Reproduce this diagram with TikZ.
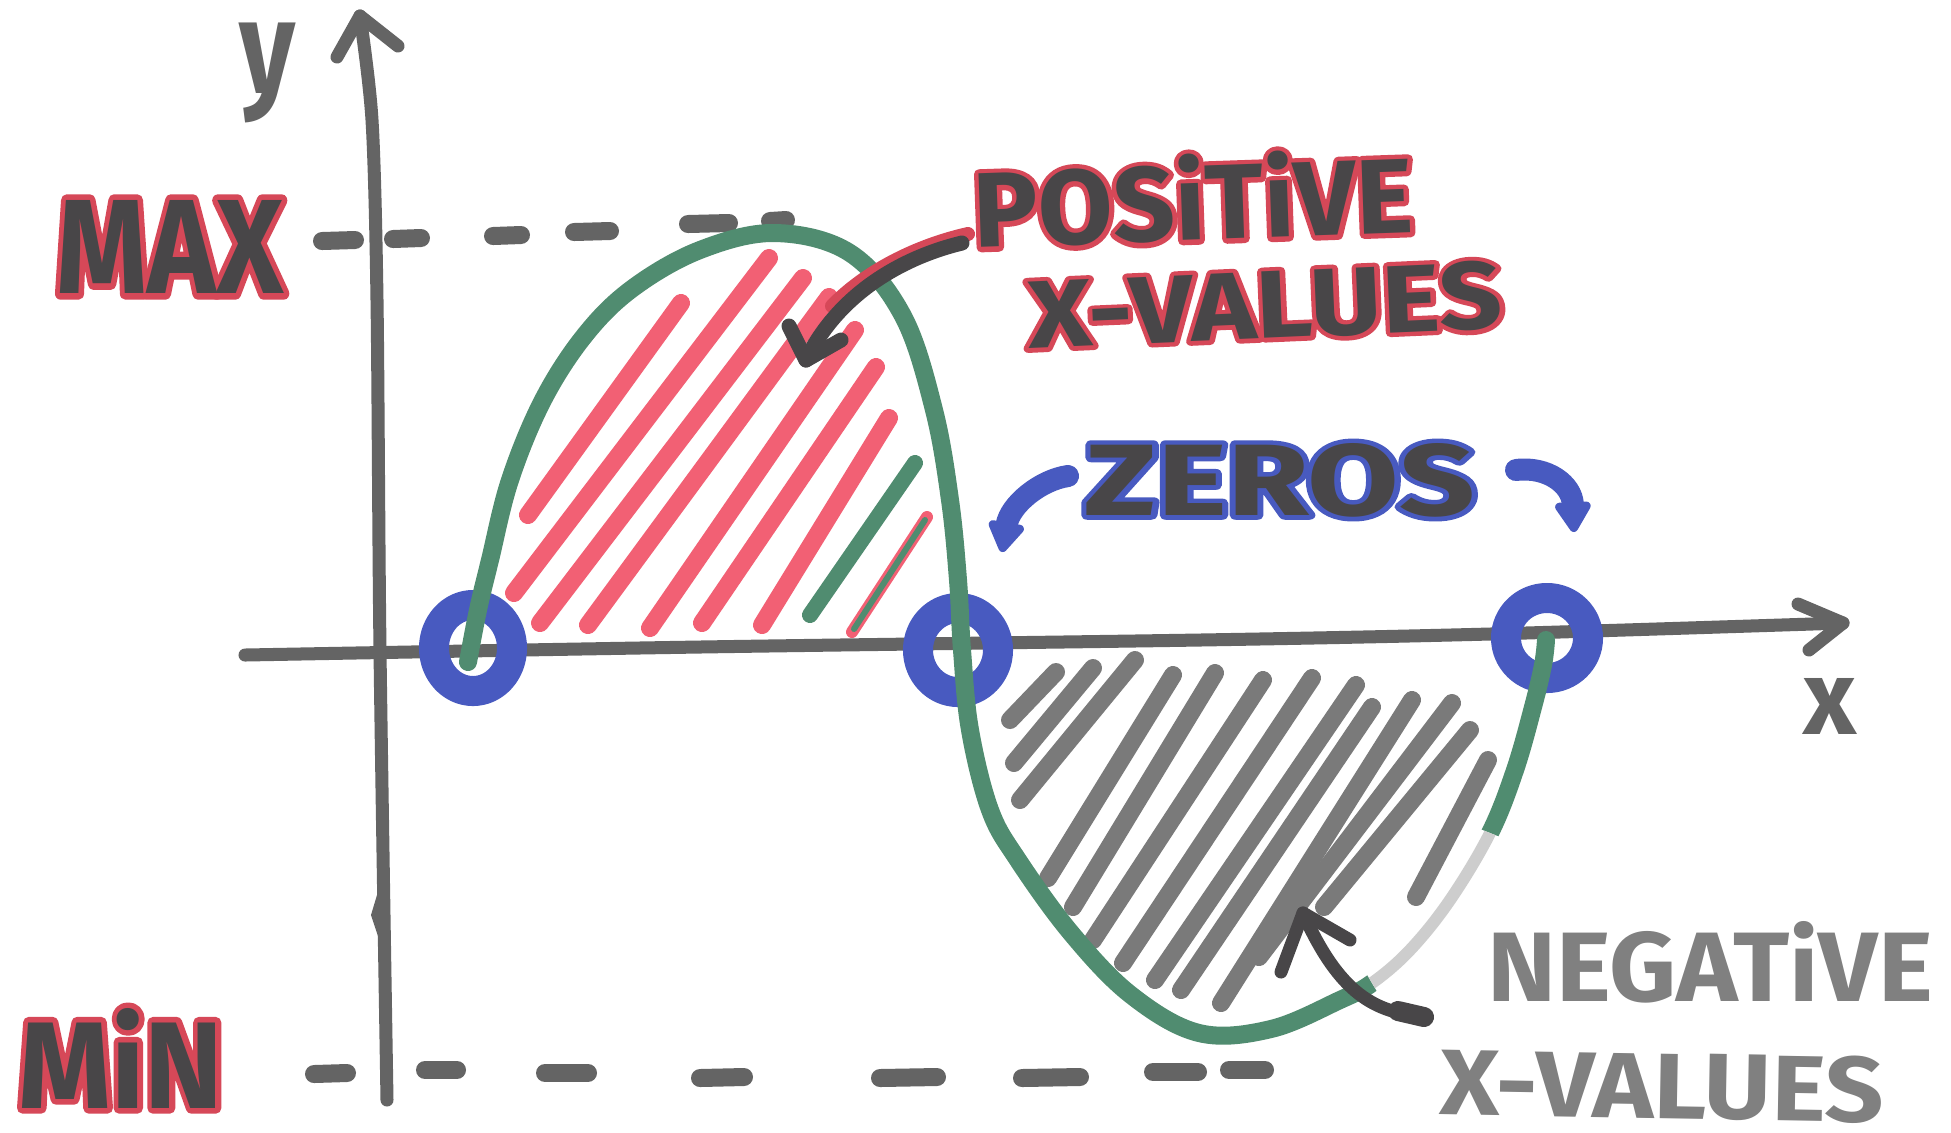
\documentclass[tikz,border=0pt]{standalone}
\usepackage{graphicx}
\usepackage{fontspec}
\setmainfont{Fira Sans}
\newfontfamily\fatfont{Fira Sans}[BoldFeatures={FakeBold=9}]
\usetikzlibrary{arrows.meta}
\definecolor{cgreen}{RGB}{80,140,112}
\definecolor{cblue}{RGB}{72,90,192}
\definecolor{cred}{RGB}{242,96,116}
\definecolor{tred}{RGB}{214,72,88}
\definecolor{cdark}{RGB}{72,70,72}
\definecolor{cgray}{RGB}{100,100,100}
\definecolor{hgray}{RGB}{122,122,122}
\definecolor{lgray}{RGB}{128,128,128}
\definecolor{faint}{RGB}{205,205,205}
\newcommand\duo[5]{%
  \leavevmode
  \rlap{\color{#3}\fatfont\bfseries\resizebox{#1}{#2}{#5}}%
  {\color{#4}\bfseries\resizebox{#1}{#2}{#5}}}
\tikzset{
  axisline/.style={line width=0.13cm, draw=cgray, line cap=round, line join=round},
  dashmark/.style={line width=0.18cm, draw=cgray, line cap=round},
  redhatch/.style={line width=0.18cm, draw=cred, line cap=round},
  grayhatch/.style={line width=0.18cm, draw=hgray, line cap=round},
  zeroring/.style={line width=0.3cm, draw=cblue},
  curveline/.style={line width=0.18cm, draw=cgreen, line cap=round},
  bluearrow/.style={line width=0.22cm, draw=cblue, line cap=round, -{Triangle[round,length=0.34cm,width=0.4cm]}},
  darkarrow/.style={line width=0.15cm, draw=cdark, line cap=round, line join=round},
  lbl/.style={inner sep=0pt, font=\bfseries, line join=round, line cap=round}
}
\begin{document}
\begin{tikzpicture}[x=0.01cm, y=-0.01cm, line join=round]
\pgfsetroundjoin
\useasboundingbox (0,0) rectangle (1951,1132);
\fill[white] (0,0) rectangle (1951,1132);

% dashes MAX
\draw[dashmark] (322,241) -- (355,240);
\draw[dashmark] (393,239) -- (421,238);
\draw[dashmark] (493,236) -- (521,235);
\draw[dashmark] (574,232) -- (610,231);
\draw[dashmark] (688,224) -- (729,223);
\draw[dashmark] (770,221) -- (786,220);
% dashes MIN
\draw[dashmark] (314,1074) -- (347,1073);
\draw[dashmark] (425,1070) -- (457,1070);
\draw[dashmark] (545,1073) -- (588,1073);
\draw[dashmark] (700,1078) -- (744,1077);
\draw[dashmark] (880,1078) -- (937,1077);
\draw[dashmark] (1022,1078) -- (1080,1077);
\draw[dashmark] (1153,1072) -- (1198,1072);
\draw[dashmark] (1229,1070) -- (1265,1070);

% axes
\coordinate (ybot) at (387,1100);
\coordinate (ytip) at (360,16);
\draw[axisline] plot[smooth] coordinates {(387,1100) (380,650) (377,300) (372,120) (360,16)};
\draw[axisline] (337,57) -- (ytip) -- (398,46);
\fill[cgray] (380,885) -- (389,915) -- (381,945) -- (371,915) -- cycle;
\coordinate (xbeg) at (245,655);
\coordinate (xtip) at (1843,623);
\draw[axisline] plot[smooth] coordinates {(245,655) (700,647) (1200,640) (1490,634) (1843,623)};
\draw[axisline] (1798,604) -- (xtip) -- (1809,650);

% red hatching
\draw[redhatch] (528,515) -- (681,303);
\draw[redhatch] (514,593) -- (769,258);
\draw[redhatch] (540,623) -- (803,278);
\draw[redhatch] (588,625) -- (829,297);
\draw[redhatch] (650,628) -- (855,330);
\draw[redhatch] (702,623) -- (876,367);
\draw[redhatch] (762,625) -- (889,418);
\draw[line width=0.16cm, draw=cgreen, line cap=round] (810,615) -- (915,463);
\draw[line width=0.12cm, draw=cred, line cap=round] (852,632) -- (927,517);
\draw[line width=0.06cm, draw=cgreen, line cap=round] (854,629) -- (925,520);

% gray hatching
\draw[grayhatch] (1010,720) -- (1056,672);
\draw[grayhatch] (1014,763) -- (1093,668);
\draw[grayhatch] (1020,800) -- (1135,660);
\draw[grayhatch] (1048,878) -- (1173,675);
\draw[grayhatch] (1073,907) -- (1215,673);
\draw[grayhatch] (1093,940) -- (1263,680);
\draw[grayhatch] (1123,963) -- (1312,678);
\draw[grayhatch] (1155,980) -- (1356,685);
\draw[grayhatch] (1181,990) -- (1372,707);
\draw[grayhatch] (1221,1003) -- (1412,700);
\draw[grayhatch] (1259,957) -- (1452,703);
\draw[grayhatch] (1324,907) -- (1470,730);
\draw[grayhatch] (1416,897) -- (1488,760);

% zero rings
\coordinate (z1) at (473,648);
\coordinate (z2) at (958,650);
\coordinate (z3) at (1547,638);
\draw[zeroring] (z1) ellipse [x radius=0.39cm, y radius=0.43cm];
\draw[zeroring] (z2) ellipse [x radius=0.40cm, y radius=0.42cm];
\draw[zeroring] (z3) ellipse [x radius=0.41cm, y radius=0.40cm];

% function curve
\def\curvepts{(468,662) (478,610) (490,560) (510,480) (543,400) (585,335) (633,288) (700,250) (775,233) (850,253) (903,316) (934,410) (950,500) (958,580) (962,650) (970,730) (990,810) (1018,860) (1071,933) (1131,995) (1199,1033) (1271,1029) (1340,1000) (1372,983) (1410,950) (1450,900) (1490,833) (1515,770) (1533,707) (1543,665) (1546,640)}
\draw[curveline] plot[smooth, tension=0.6] coordinates {\curvepts};
\begin{scope}
\clip (1350,946) -- (1450,817) -- (1530,849) -- (1394,1020) -- cycle;
\draw[line width=0.22cm, white] plot[smooth, tension=0.6] coordinates {\curvepts};
\draw[line width=0.12cm, faint] plot[smooth, tension=0.6] coordinates {\curvepts};
\end{scope}

% blue arrows to zeros
\coordinate (zl0) at (1068,476);
\coordinate (zl1) at (1002,552);
\draw[bluearrow] (zl0) .. controls (1040,480) and (1010,505) .. (zl1);
\coordinate (zr0) at (1516,470);
\coordinate (zr1) at (1574,532);
\draw[bluearrow] (zr0) .. controls (1548,466) and (1572,485) .. (zr1);

% arrow to positive region
\coordinate (pa0) at (962,243);
\coordinate (pa1) at (806,360);
\draw[line width=0.14cm, draw=tred, line cap=round] (968,234) .. controls (915,246) and (865,272) .. (832,306);
\draw[darkarrow] (pa0) .. controls (900,258) and (838,295) .. (pa1);
\draw[darkarrow] (789,326) -- (pa1) -- (841,340);

% arrow to negative region
\coordinate (na0) at (1424,1017);
\coordinate (na1) at (1303,913);
\draw[darkarrow, line width=0.13cm] (na0) .. controls (1375,1012) and (1340,995) .. (na1);
\draw[darkarrow, line width=0.13cm] (1281,972) -- (na1) -- (1350,940);
\draw[line width=0.2cm, draw=cdark, line cap=round] (1398,1011) -- (na0);

% labels
\node[lbl, text=cgray] (ylabel) at (268,73) {\resizebox*{0.56cm}{1.0cm}{y}};
\node[lbl, text=cgray] (xlabel) at (1830,706) {\resizebox*{0.53cm}{0.56cm}{x}};
\node[lbl] (maxlabel) at (170,247) {\duo{2.27cm}{0.93cm}{tred}{cdark}{MAX}};
\node[lbl] (minlabel) at (121,1058) {\duo{2.05cm}{1.0cm}{tred}{cdark}{MiN}};
\node[lbl, rotate=2] (pos1) at (1193,198) {\duo{4.4cm}{0.86cm}{tred}{cdark}{POSiTiVE}};
\node[lbl, rotate=2.5] (pos2) at (1265,305) {\duo{4.75cm}{0.68cm}{tred}{cdark}{X-VALUES}};
\node[lbl] (zeros) at (1280,480) {\duo{3.9cm}{0.72cm}{cblue}{cdark}{ZEROS}};
\node[lbl, text=lgray] (neg1) at (1710,962) {\resizebox{4.45cm}{0.8cm}{NEGATiVE}};
\node[lbl, text=lgray, rotate=-1] (neg2) at (1662,1086) {\resizebox{4.44cm}{0.66cm}{X-VALUES}};
\end{tikzpicture}
\end{document}
